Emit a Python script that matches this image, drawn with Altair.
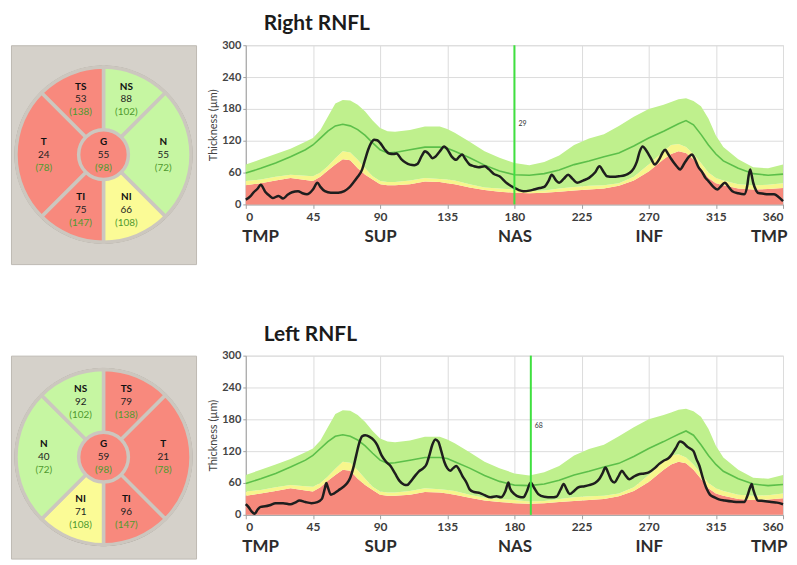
import math
import altair as alt
import pandas as pd

# ---------------- normative bands (shared by both eyes) ----------------
norm_deg = [0, 10, 20, 30, 40, 45, 50, 55, 60, 65, 70, 75, 80, 85, 90, 95, 100, 110, 120, 130, 135, 140,
            150, 160, 170, 180, 190, 200, 210, 220, 230, 240, 250, 260, 270, 280, 285, 290, 295, 300,
            305, 310, 315, 320, 330, 340, 350, 360]
p95 = [75, 85, 95, 105, 118, 125, 140, 165, 190, 197, 196, 188, 175, 158, 144, 138, 137, 140, 147, 147, 142, 135,
       118, 100, 88, 78, 74, 80, 92, 112, 124, 132, 148, 165, 180, 188, 193, 198, 200, 195,
       185, 162, 130, 108, 85, 70, 68, 75]
p50 = [59, 68, 78, 90, 103, 112, 125, 138, 148, 151, 148, 141, 130, 116, 103, 97, 98, 103, 108, 108, 106, 100,
       88, 74, 63, 56, 55, 58, 65, 75, 82, 90, 97, 110, 125, 138, 145, 152, 158, 150,
       132, 112, 95, 82, 68, 58, 55, 57]
p5 = [44, 47, 52, 56, 54, 53, 60, 72, 87, 100, 98, 84, 68, 53, 44, 42, 42, 45, 50, 48, 47, 45,
      38, 32, 30, 28, 25, 26, 30, 33, 35, 36, 40, 52, 75, 100, 112, 114, 108, 95,
      78, 60, 50, 45, 38, 36, 37, 40]
p1 = [36, 40, 45, 50, 46, 44, 52, 64, 75, 85, 83, 68, 56, 47, 38, 36, 36, 38, 43, 42, 40, 38,
      32, 27, 24, 22, 21, 22, 24, 26, 28, 30, 35, 45, 62, 85, 95, 100, 97, 85,
      68, 50, 40, 36, 30, 28, 29, 31]

# ---------------- measured RNFL thickness ----------------
right_deg = [0, 3, 5, 8, 10, 13, 16, 18, 22, 25, 28, 31, 35, 38, 41, 45, 48, 50, 53, 57, 62, 66, 69, 72, 75, 78,
             80, 82, 84, 86, 88, 90, 93, 96, 99, 101, 104, 107, 110, 113, 115, 118, 120, 123, 125, 127, 130,
             133, 135, 138, 141, 143, 145, 147, 150, 153, 156, 160, 163, 166, 170, 175, 180, 183, 186, 190,
             193, 197, 200, 203, 205, 208, 210, 213, 216, 219, 222, 226, 230, 234, 237, 240, 242, 246, 250,
             254, 257, 260, 262, 264, 266, 268, 270, 272, 274, 277, 279, 281, 283, 285, 287, 289, 291, 294,
             297, 299, 301, 303, 306, 308, 310, 313, 316, 318, 321, 323, 326, 330, 334, 336, 337, 338, 339,
             340, 342, 343, 347, 350, 354, 357, 360]
right_val = [9, 15, 22, 30, 37, 24, 16, 12, 16, 11, 18, 23, 25, 21, 19, 28, 41, 33, 25, 22, 22, 25, 31, 41, 52, 66,
             85, 103, 116, 122, 121, 116, 104, 96, 95, 96, 86, 79, 75, 74, 76, 92, 100, 94, 87, 90, 100,
             109, 104, 90, 84, 90, 94, 86, 75, 72, 70, 72, 66, 58, 53, 40, 31, 27, 25, 26,
             28, 31, 33, 45, 56, 45, 41, 48, 56, 48, 41, 45, 50, 60, 72, 60, 53, 52, 53,
             55, 59, 68, 80, 100, 109, 103, 94, 84, 75, 85, 96, 103, 95, 86, 78, 71, 66, 78,
             90, 94, 85, 72, 60, 50, 44, 34, 28, 33, 41, 35, 25, 21, 19, 35, 55, 66, 55,
             41, 26, 22, 20, 19, 19, 14, 6]

left_deg = [0, 2, 4, 6, 8, 10, 13, 16, 20, 25, 30, 33, 36, 40, 44, 48, 51, 53, 54, 55, 57, 59, 62, 65, 68, 70,
            72, 74, 76, 78, 80, 83, 86, 88, 91, 94, 97, 100, 103, 106, 108, 110, 113, 116, 119, 121, 123,
            125, 127, 129, 131, 133, 135, 137, 139, 141, 143, 145, 148, 150, 153, 157, 160, 164, 168, 171,
            174, 176, 177, 180, 183, 186, 188, 191, 193, 196, 200, 205, 208, 211, 213, 215, 217, 220, 223,
            227, 230, 234, 237, 239, 241, 243, 245, 247, 250, 252, 254, 257, 260, 263, 267, 270, 274, 277,
            280, 283, 285, 288, 291, 293, 296, 300, 302, 304, 306, 309, 311, 314, 317, 321, 326, 330, 334,
            336, 338, 339, 340, 342, 343, 347, 352, 356, 360]
left_val = [20, 14, 6, 2, 10, 15, 16, 18, 22, 22, 20, 23, 27, 24, 22, 24, 30, 50, 60, 52, 38, 40, 46, 52, 60, 70,
            88, 112, 135, 148, 150, 147, 140, 132, 112, 100, 92, 78, 64, 57, 56, 61, 72, 82, 88, 95, 112,
            132, 142, 138, 120, 100, 88, 83, 88, 92, 85, 74, 60, 48, 43, 41, 37, 33, 35, 33,
            45, 61, 50, 39, 34, 33, 42, 61, 52, 39, 34, 33, 34, 48, 58, 48, 39, 45, 52,
            54, 56, 60, 68, 78, 89, 78, 65, 61, 74, 83, 76, 67, 72, 76, 78, 80, 88, 96,
            102, 106, 112, 125, 138, 136, 128, 120, 105, 92, 72, 48, 38, 33, 29, 27, 25, 24, 24,
            35, 52, 58, 48, 32, 27, 26, 24, 23, 20]

# markers (vertical green line with small label)
right_marker = {"deg": 180, "y": 152, "label": "29"}
left_marker = {"deg": 191, "y": 167, "label": "68"}

tick_deg = [0, 45, 90, 135, 180, 225, 270, 315, 360]
y_ticks = [0, 60, 120, 180, 240, 300]
regions = ["TMP", "SUP", "NAS", "INF", "TMP"]
region_deg = [0, 90, 180, 270, 360]

# ---------------- sector diagrams (clockwise from 12 o'clock) ----------------
sector_span = [45, 90, 45, 45, 90, 45]
right_names = ["NS", "N", "NI", "TI", "T", "TS"]
right_vals = [88, 55, 66, 75, 24, 53]
right_norms = [102, 72, 108, 147, 78, 138]
right_status = ["green", "green", "yellow", "red", "red", "red"]
right_global = ("G", 55, 98, "red")

left_names = ["TS", "T", "TI", "NI", "N", "NS"]
left_vals = [79, 21, 96, 71, 40, 92]
left_norms = [138, 78, 147, 108, 72, 102]
left_status = ["red", "red", "red", "yellow", "green", "green"]
left_global = ("G", 59, 98, "red")

RED = "#f6897c"
YEL = "#f7f68c"
GRN = "#bff08d"
MED = "#5cbf4a"
SEC_RED = "#f8897d"
SEC_YEL = "#fbfb96"
SEC_GRN = "#c6f6a2"
SEP = "#ccc7bf"
BOX = "#d5d1ca"
FONT = "Lato"

region_expr = "".join(f"datum.value == {d} ? '{n}' : " for d, n in zip(region_deg, regions)) + "''"


def tsnit(title, m_deg, m_val, marker):
    norm = pd.DataFrame(dict(deg=norm_deg, p1=p1, p5=p5, p50=p50, p95=p95))
    meas = pd.DataFrame(dict(deg=m_deg, val=m_val))
    mk = pd.DataFrame(dict(deg=[marker["deg"]], y=[marker["y"]], label=[marker["label"]]))
    xs = alt.Scale(domain=[0, 360], nice=False, zero=False)
    ys = alt.Scale(domain=[0, 300], nice=False)
    x_axis = alt.Axis(values=tick_deg, title=None, grid=True, gridColor="#dcdcdc", labelFont=FONT,
                      labelFontSize=12, labelFontWeight="bold", labelColor="#3c3c3c", labelFlush=True,
                      labelOverlap=False, domainColor="#a0a0a0", tickColor="#a0a0a0", tickSize=4,
                      labelPadding=3)
    y_axis = alt.Axis(values=y_ticks, title="Thickness (µm)", titleFont=FONT, titleFontSize=11,
                      titleFontWeight="normal", titleColor="#444", titlePadding=3, labelFont=FONT,
                      labelFontSize=11, labelFontWeight="bold", labelColor="#444", grid=True,
                      labelOverlap=False, labelFlush=False, gridColor="#dcdcdc", domainColor="#a0a0a0",
                      tickColor="#a0a0a0", tickSize=3, labelPadding=2)
    region_axis = alt.Axis(values=region_deg, labelExpr=region_expr, title=None, grid=False, domain=False,
                           ticks=False, labelFont=FONT, labelFontSize=17, labelFontWeight="bold",
                           labelColor="#2c2c2c", labelPadding=24, labelFlush=True, labelFlushOffset=4,
                           labelOverlap=False, orient="bottom")
    red = alt.Chart(norm).mark_area(color=RED).encode(
        x=alt.X("deg:Q", scale=xs, axis=x_axis), y=alt.Y("p1:Q", scale=ys, axis=y_axis))
    yellow = alt.Chart(norm).mark_area(color=YEL).encode(
        x=alt.X("deg:Q", axis=None), y=alt.Y("p5:Q", axis=None), y2="p1:Q")
    green = alt.Chart(norm).mark_area(color=GRN).encode(
        x=alt.X("deg:Q", axis=None), y=alt.Y("p95:Q", axis=None), y2="p5:Q")
    med = alt.Chart(norm).mark_line(color=MED, strokeWidth=1.6).encode(
        x=alt.X("deg:Q", axis=region_axis), y=alt.Y("p50:Q", axis=None))
    line = alt.Chart(meas).mark_line(color="#1e1e1e", strokeWidth=2.5, interpolate="monotone").encode(
        x=alt.X("deg:Q", axis=None), y=alt.Y("val:Q", axis=None))
    rule = alt.Chart(mk).mark_rule(color="#3fe03f", strokeWidth=2).encode(x=alt.X("deg:Q", axis=None))
    txt = alt.Chart(mk).mark_text(fontSize=7, color="#333", align="left", dx=4, font=FONT).encode(
        x=alt.X("deg:Q", axis=None), y=alt.Y("y:Q", axis=None), text="label:N")
    return alt.layer(red, yellow, green, med, line, rule, txt).resolve_axis(
        x="independent", y="independent").properties(
        width=540, height=160,
        title=alt.TitleParams(title, anchor="start", frame="group", dx=18, fontSize=21, font=FONT,
                              fontWeight="bold", color="#1b1b1b", offset=5))


def sector(names, vals, norms, status, glob, height):
    df = pd.DataFrame(dict(name=names, val=[str(v) for v in vals], norm=[f"({n})" for n in norms],
                           status=status, span=sector_span, order=list(range(len(names)))))
    df["mid"] = df["span"].cumsum() - df["span"] / 2
    ctr = pd.DataFrame(dict(name=[glob[0]], val=[str(glob[1])], norm=[f"({glob[2]})"], status=[glob[3]],
                            span=[360], mid=[0]))
    ring = pd.DataFrame(dict(span=[360]))
    th = alt.Scale(domain=[0, 360], range=[0, 2 * math.pi])
    cs = alt.Scale(domain=["red", "yellow", "green"], range=[SEC_RED, SEC_YEL, SEC_GRN])
    R = 88
    arcs = alt.Chart(df).mark_arc(outerRadius=R, stroke=SEP, strokeWidth=3.5).encode(
        theta=alt.Theta("span:Q", stack=True, scale=th),
        color=alt.Color("status:N", scale=cs, legend=None),
        order=alt.Order("order:Q"))
    ring_l = alt.Chart(ring).mark_arc(innerRadius=R - 1, outerRadius=R + 1.5, color="#8e8b84").encode(
        theta=alt.Theta("span:Q", stack=True, scale=th))
    center = alt.Chart(ctr).mark_arc(outerRadius=25, stroke=SEP, strokeWidth=3.5).encode(
        theta=alt.Theta("span:Q", stack=True, scale=th),
        color=alt.Color("status:N", scale=cs, legend=None))
    layers = [ring_l, arcs, center]
    for data, rad in ((df, 60), (ctr, 0)):
        for field, dy, col, wt in (("name", -13, "#111", "bold"), ("val", 0, "#222", "normal"),
                                   ("norm", 13, "#4f9a2e", "normal")):
            layers.append(alt.Chart(data).mark_text(fontSize=10, dy=dy, color=col, fontWeight=wt,
                                                    font=FONT).encode(
                theta=alt.Theta("mid:Q", stack=False, scale=th), radius=alt.value(rad),
                text=f"{field}:N"))
    return alt.layer(*layers).properties(
        width=186, height=height,
        view=alt.ViewBackground(fill=BOX, stroke="#bdb9b2"))


top = alt.hconcat(
    sector(right_names, right_vals, right_norms, right_status, right_global, 220),
    tsnit("Right RNFL", right_deg, right_val, right_marker),
    spacing=8)
bottom = alt.hconcat(
    sector(left_names, left_vals, left_norms, left_status, left_global, 204),
    tsnit("Left RNFL", left_deg, left_val, left_marker),
    spacing=8)

chart = alt.vconcat(top, bottom, spacing=58).properties(
    padding={"left": 0, "top": 3, "right": 0, "bottom": 0}
).configure_view(stroke=None).configure(background="white")

chart.save("out.html", embed_options={"renderer": "svg", "actions": False})
